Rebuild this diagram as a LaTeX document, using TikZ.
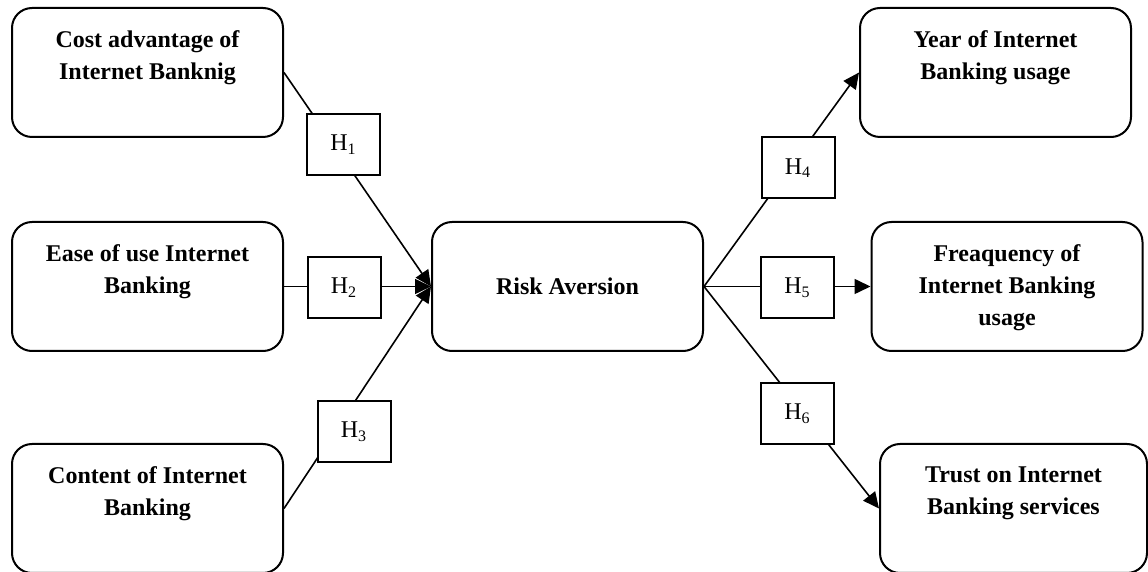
\documentclass[tikz,border=0pt]{standalone}
\usepackage{fontspec}
\setmainfont{Liberation Serif}
\usetikzlibrary{arrows.meta}

\tikzset{factor/.style = {draw, line width=1pt, rounded corners=10pt,
                          minimum width=135.5pt, minimum height=64.5pt},
         factortext/.style = {anchor=north, align=center, inner sep=0pt,
                              font=\fontsize{12}{16}\selectfont\bfseries},
         hypo/.style = {draw, fill=white, line width=1pt, inner sep=0pt,
                        minimum width=36.5pt, minimum height=30.5pt,
                        font=\fontsize{12}{14}\selectfont},
         link/.style = {line width=0.8pt, -{Triangle[length=8pt,width=7.5pt]}}
        }

\begin{document}
\begin{tikzpicture}[x=0.5pt, y=-0.5pt]
  \useasboundingbox (0,0) rectangle (1148,572);
  % independent variables
  \node[factor] (cost)    at (147.5,72.5)  {};
  \node[factor] (ease)    at (147.5,286.5) {};
  \node[factor] (content) at (147.5,508.5) {};
  \node[factortext] at ([yshift=-11.8pt]cost.north)    {Cost advantage of\\Internet Banknig};
  \node[factortext] at ([yshift=-11.8pt]ease.north)    {Ease of use Internet\\Banking};
  \node[factortext] at ([yshift=-11.8pt]content.north) {Content of Internet\\Banking};
  % mediator
  \node[factor, font=\fontsize{12}{16}\selectfont\bfseries] (risk) at (567.5,286.5) {Risk Aversion};
  % outcomes
  \node[factor] (year)  at (995.5,72.5)  {};
  \node[factor] (freq)  at (1007,286.5)  {};
  \node[factor, minimum width=133.5pt] (trust) at (1013.5,508.5) {};
  \node[factortext] at ([yshift=-11.8pt]year.north)  {Year of Internet\\Banking usage};
  \node[factortext] at ([yshift=-11.8pt]freq.north)  {Freaquency of\\Internet Banking\\usage};
  \node[factortext] at ([yshift=-11.8pt]trust.north) {Trust on Internet\\Banking services};

  \draw[link] (cost.east)    -- (risk.west);
  \draw[link] (ease.east)    -- (risk.west);
  \draw[link] (content.east) -- (risk.west);
  \draw[link] (risk.east) -- (year.west);
  \draw[link] (risk.east) -- (freq.west);
  \draw[link] (risk.east) -- (trust.west);

  % hypotheses
  \node[hypo] (h1) at (343.5,144.5) {H\textsubscript{1}};
  \node[hypo] (h2) at (344,287.5)   {H\textsubscript{2}};
  \node[hypo] (h3) at (354,431.5)   {H\textsubscript{3}};
  \node[hypo] (h4) at (798,168)     {H\textsubscript{4}};
  \node[hypo] (h5) at (797.5,287.5) {H\textsubscript{5}};
  \node[hypo] (h6) at (797.5,413.5) {H\textsubscript{6}};
\end{tikzpicture}
\end{document}
